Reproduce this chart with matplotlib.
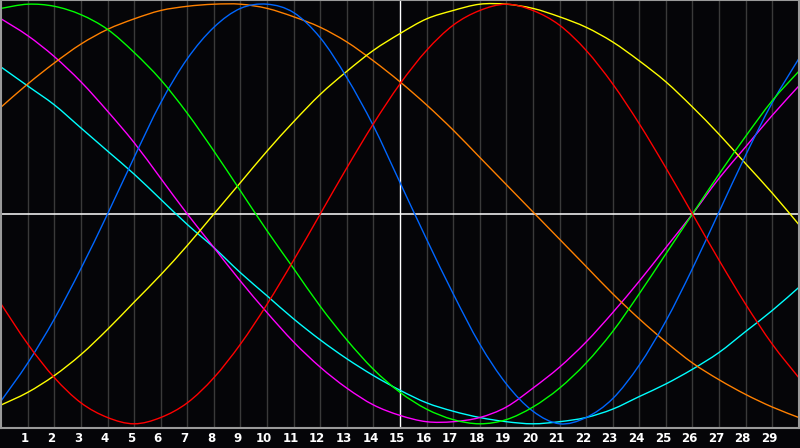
import matplotlib
matplotlib.use("Agg")
import matplotlib.pyplot as plt
import matplotlib.transforms as mtransforms
from matplotlib.path import Path
from matplotlib.patches import PathPatch
import numpy as np

# values, one per day (day 0 .. 30), scale -1 .. 1
days = list(range(0, 31))
day_labels = [str(d) for d in range(1, 30)]

red = [-0.43, -0.62, -0.78, -0.90, -0.97, -1.00, -0.97, -0.90, -0.78, -0.62,
       -0.43, -0.22, 0.00, 0.22, 0.43, 0.62, 0.78, 0.90, 0.97, 1.00,
       0.97, 0.90, 0.78, 0.62, 0.43, 0.22, 0.00, -0.22, -0.43, -0.62, -0.78]
green = [0.98, 1.00, 0.99, 0.95, 0.88, 0.77, 0.64, 0.48, 0.30, 0.11,
         -0.08, -0.26, -0.44, -0.60, -0.74, -0.85, -0.93, -0.98, -1.00, -0.98,
         -0.92, -0.83, -0.71, -0.56, -0.38, -0.19, 0.00, 0.19, 0.37, 0.54, 0.68]
blue = [-0.89, -0.71, -0.50, -0.26, 0.00, 0.27, 0.53, 0.74, 0.89, 0.98,
        1.00, 0.96, 0.84, 0.65, 0.42, 0.15, -0.12, -0.38, -0.62, -0.81,
        -0.94, -1.00, -0.97, -0.88, -0.72, -0.51, -0.26, 0.01, 0.28, 0.53, 0.74]
yellow = [-0.91, -0.85, -0.77, -0.67, -0.55, -0.42, -0.29, -0.15, 0.00, 0.15,
          0.30, 0.44, 0.57, 0.68, 0.78, 0.86, 0.93, 0.97, 1.00, 1.00,
          0.98, 0.94, 0.89, 0.82, 0.73, 0.63, 0.51, 0.38, 0.24, 0.10, -0.05]
orange = [0.51, 0.62, 0.72, 0.81, 0.88, 0.93, 0.97, 0.99, 1.00, 1.00,
          0.98, 0.94, 0.89, 0.82, 0.73, 0.63, 0.52, 0.40, 0.27, 0.14,
          0.01, -0.12, -0.25, -0.38, -0.50, -0.61, -0.71, -0.79, -0.86, -0.92, -0.97]
magenta = [0.93, 0.85, 0.75, 0.63, 0.49, 0.34, 0.17, 0.00, -0.16, -0.32,
           -0.47, -0.61, -0.73, -0.83, -0.91, -0.96, -0.99, -0.99, -0.97, -0.92,
           -0.83, -0.73, -0.61, -0.47, -0.32, -0.16, 0.00, 0.17, 0.32, 0.47, 0.61]
cyan = [0.70, 0.61, 0.52, 0.41, 0.30, 0.19, 0.07, -0.05, -0.16, -0.28,
        -0.39, -0.50, -0.60, -0.69, -0.77, -0.84, -0.90, -0.94, -0.97, -0.99,
        -1.00, -0.99, -0.97, -0.93, -0.87, -0.81, -0.74, -0.66, -0.56, -0.46, -0.35]

series = [
    (cyan, "#00ffff"),
    (magenta, "#ff00ff"),
    (orange, "#ff8000"),
    (yellow, "#ffff00"),
    (blue, "#0066ff"),
    (green, "#00ff00"),
    (red, "#ff0000"),
]


def smooth_path(xs, ys):
    # bezier segments through the read points (catmull-rom style handles)
    p = np.column_stack([xs, ys]).astype(float)
    n = len(p)
    verts = [p[0]]
    codes = [Path.MOVETO]
    for i in range(n - 1):
        a = p[max(i - 1, 0)]
        b = p[min(i + 2, n - 1)]
        verts += [p[i] + (p[i + 1] - a) / 6, p[i + 1] - (b - p[i]) / 6, p[i + 1]]
        codes += [Path.CURVE4] * 3
    return Path(verts, codes)


bg = "#050508"
fig = plt.figure(figsize=(8, 4.48), dpi=100, facecolor=bg)
ax = fig.add_axes([0.0015, 20 / 448, 0.997, 428 / 448])
ax.set_facecolor(bg)

tick_days = list(range(1, 30))
for d in tick_days:
    c = "#ffffff" if d == 15 else "#3a3a3a"
    ax.axvline(d, color=c, lw=1.0, zorder=1)
ax.axhline(0, color="#ffffff", lw=1.1, zorder=1)

for vals, col in series:
    ax.add_patch(PathPatch(smooth_path(days, vals), fill=False,
                           edgecolor=col, lw=1.0, zorder=2))

ax.set_xlim(0, 30)
ax.set_ylim(-1.02, 1.02)
ax.set_yticks([])
ax.set_xticks(tick_days)
ax.set_xticklabels(day_labels, color="white", fontsize=8.5, fontweight="bold",
                   family="DejaVu Sans")
ax.tick_params(axis="x", length=0, pad=3)
shift = mtransforms.ScaledTranslation(-3 / 100, 0, fig.dpi_scale_trans)
for lab in ax.get_xticklabels():
    lab.set_transform(lab.get_transform() + shift)

for s in ax.spines.values():
    s.set_color("#9a9a9a")
    s.set_linewidth(1.5)

fig.savefig("out.png", dpi=100, facecolor=bg)
